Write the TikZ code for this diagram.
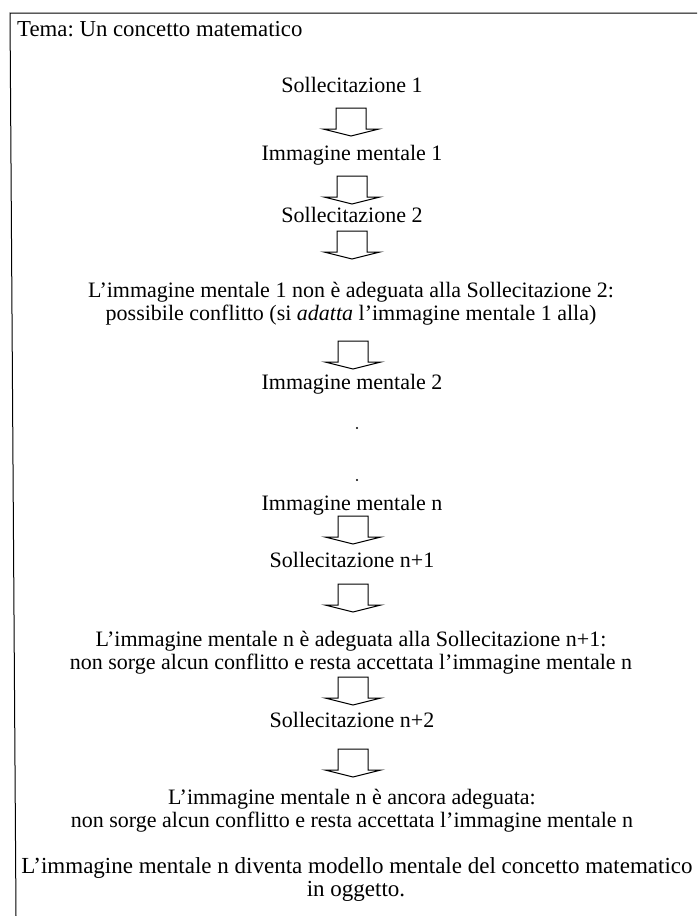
\documentclass[tikz,border=0pt]{standalone}
\usepackage{fontspec}
\setmainfont{Liberation Serif}
\frenchspacing
\begin{document}
\begin{tikzpicture}[x=1pt,y=-1pt,
  txt/.style={anchor=base,inner sep=0pt,font=\fontsize{22}{23}\selectfont},
  bigtxt/.style={anchor=base,inner sep=0pt,font=\fontsize{23}{24}\selectfont},
  frame/.style={line width=1pt},
  blockarrow/.pic={\draw[line width=1pt,line join=miter]
     (-15,0) -- (15,0) -- (15,21) -- (28,21) -- (0,28) -- (-28,21) -- (-15,21) -- cycle;}]
\useasboundingbox (0,0) rectangle (697,916);
% frame
\coordinate (tl) at (10,13);
\coordinate (tr) at (697,13);
\coordinate (bl) at (16,916);
\draw[frame] (tr) -- (tl) -- (bl);
% title
\node[anchor=base west,inner sep=0pt,font=\fontsize{22.8}{24}\selectfont] (tema) at (17,36) {Tema: Un concetto matematico};
% flow
\node[txt] (s1) at (352,92) {Sollecitazione 1};
\pic at (351,108) {blockarrow};
\node[txt] (i1) at (352,160) {Immagine mentale 1};
\pic at (352,176) {blockarrow};
\node[txt] (s2) at (352,222) {Sollecitazione 2};
\pic at (352,231) {blockarrow};
\node[txt] (c1a) at (351,297) {L’immagine mentale 1 non è adeguata alla Sollecitazione 2:};
\node[txt] (c1b) at (351,320) {possibile conflitto (si \textit{adatta} l’immagine mentale 1 alla)};
\pic at (353,341) {blockarrow};
\node[txt] (i2) at (352,389) {Immagine mentale 2};
\fill (357,428) circle (1.1);
\fill (357,480) circle (1.1);
\node[txt] (in) at (352,510) {Immagine mentale n};
\pic at (353,516) {blockarrow};
\node[txt] (sn1) at (352,567) {Sollecitazione n+1};
\pic at (353,584) {blockarrow};
\node[txt] (c2a) at (351,646) {L’immagine mentale n è adeguata alla Sollecitazione n+1:};
\node[txt] (c2b) at (351,669) {non sorge alcun conflitto e resta accettata l’immagine mentale n};
\pic at (353,677) {blockarrow};
\node[txt] (sn2) at (352,727) {Sollecitazione n+2};
\pic at (353,749) {blockarrow};
\node[txt] (c3a) at (352,804) {L’immagine mentale n è ancora adeguata:};
\node[txt] (c3b) at (352,827) {non sorge alcun conflitto e resta accettata l’immagine mentale n};
\node[bigtxt] (fa) at (357,873) {L’immagine mentale n diventa modello mentale del concetto matematico};
\node[bigtxt] (fb) at (356,896) {in oggetto.};
\end{tikzpicture}
\end{document}
